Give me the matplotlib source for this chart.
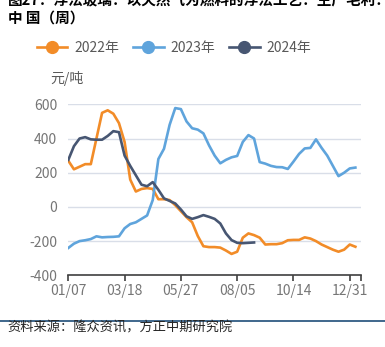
import numpy as np
import matplotlib
matplotlib.use("Agg")
import matplotlib.pyplot as plt
from matplotlib.lines import Line2D

plt.rcParams['font.family'] = ['Noto Sans CJK SC', 'DejaVu Sans']
plt.rcParams['axes.unicode_minus'] = False

# weekly gross margin, yuan/ton
y2022 = [270, 220, 235, 250, 250, 400, 550, 565, 545, 490,
         380, 160, 90, 105, 110, 105, 45, 45, 40, 10,
         -25, -60, -90, -170, -230, -235, -235, -238, -255, -275,
         -262, -180, -155, -165, -180, -220, -218, -218, -212, -195,
         -193, -193, -178, -185, -200, -220, -235, -250, -262, -250,
         -220, -233]
y2023 = [-240, -215, -200, -195, -188, -172, -178, -176, -175, -172,
         -125, -100, -90, -70, -50, 40, 280, 340, 480, 578,
         572, 500, 460, 452, 430, 360, 300, 255, 275, 290,
         298, 380, 420, 400, 262, 253, 240, 233, 232, 222,
         265, 310, 342, 345, 395, 345, 300, 240, 180, 200,
         225, 230]
y2024 = [275, 355, 400, 408, 395, 393, 393, 415, 443, 437,
         300, 240, 185, 130, 121, 145, 100, 50, 35, 20,
         -15, -55, -70, -60, -48, -58, -70, -97, -155, -194,
         -210, -212, -210, -208]
tick_labels = ['01/07', '03/18', '05/27', '08/05', '10/14', '12/31']
series = [('2022年', y2022, '#F28C28'),
          ('2023年', y2023, '#5FA4DC'),
          ('2024年', y2024, '#475672')]

fig = plt.figure(figsize=(3.85, 3.47), dpi=100)
ax = fig.add_axes([0.1774, 0.2066, 0.7603, 0.4928])

for name, vals, col in series:
    ax.plot(np.arange(len(vals)), vals, color=col, lw=1.9,
            solid_joinstyle='round', label=name, zorder=3)

ax.set_xlim(0, 52)
ax.set_ylim(-400, 600)
ax.set_yticks([-400, -200, 0, 200, 400, 600])
ax.set_xticks([0, 10, 20, 30, 40, 50, 52])
ax.set_xticklabels(tick_labels + [''])
ax.grid(axis='y', color='#D9DEE8', lw=1.0, zorder=0)
for s in ['top', 'right', 'left']:
    ax.spines[s].set_visible(False)
ax.spines['bottom'].set_color('#404040')
ax.spines['bottom'].set_linewidth(1.2)
ax.tick_params(axis='y', length=0, pad=8, labelsize=10, labelcolor='#767676')
ax.tick_params(axis='x', length=4, width=1.2, color='#404040', pad=2,
               labelsize=10, labelcolor='#767676')

fig.text(0.13, 0.775, '元/吨', fontsize=10, color='#595959', va='center')

handles = [Line2D([], [], color=c, lw=1.9, marker='o', markersize=8.5)
           for _, _, c in series]
fig.legend(handles, [n for n, _, _ in series], loc='center',
           bbox_to_anchor=(0.452, 0.8625), ncol=3, frameon=False,
           fontsize=10, handlelength=2.2, handletextpad=0.5,
           columnspacing=1.0, labelcolor='#595959')

# title runs past the top edge, as in the report page
fig.text(0.02, 1.0, '图27：浮法玻璃：以天然气为燃料的浮法工艺：生产毛利：',
         fontsize=10.5, fontweight='bold', va='center', color='black')
fig.text(0.02, 0.948, '中 国（周）', fontsize=10.5, fontweight='bold',
         va='center', color='black')

fig.add_artist(Line2D([0, 1], [1 - 320.5 / 347, 1 - 320.5 / 347],
                      color='#1F4E79', lw=1.2))
fig.text(0.02, 1 - 328 / 347, '资料来源：隆众资讯，方正中期研究院', fontsize=9.5,
         style='italic', va='center', color='#262626')

fig.savefig('out.png', dpi=100)
